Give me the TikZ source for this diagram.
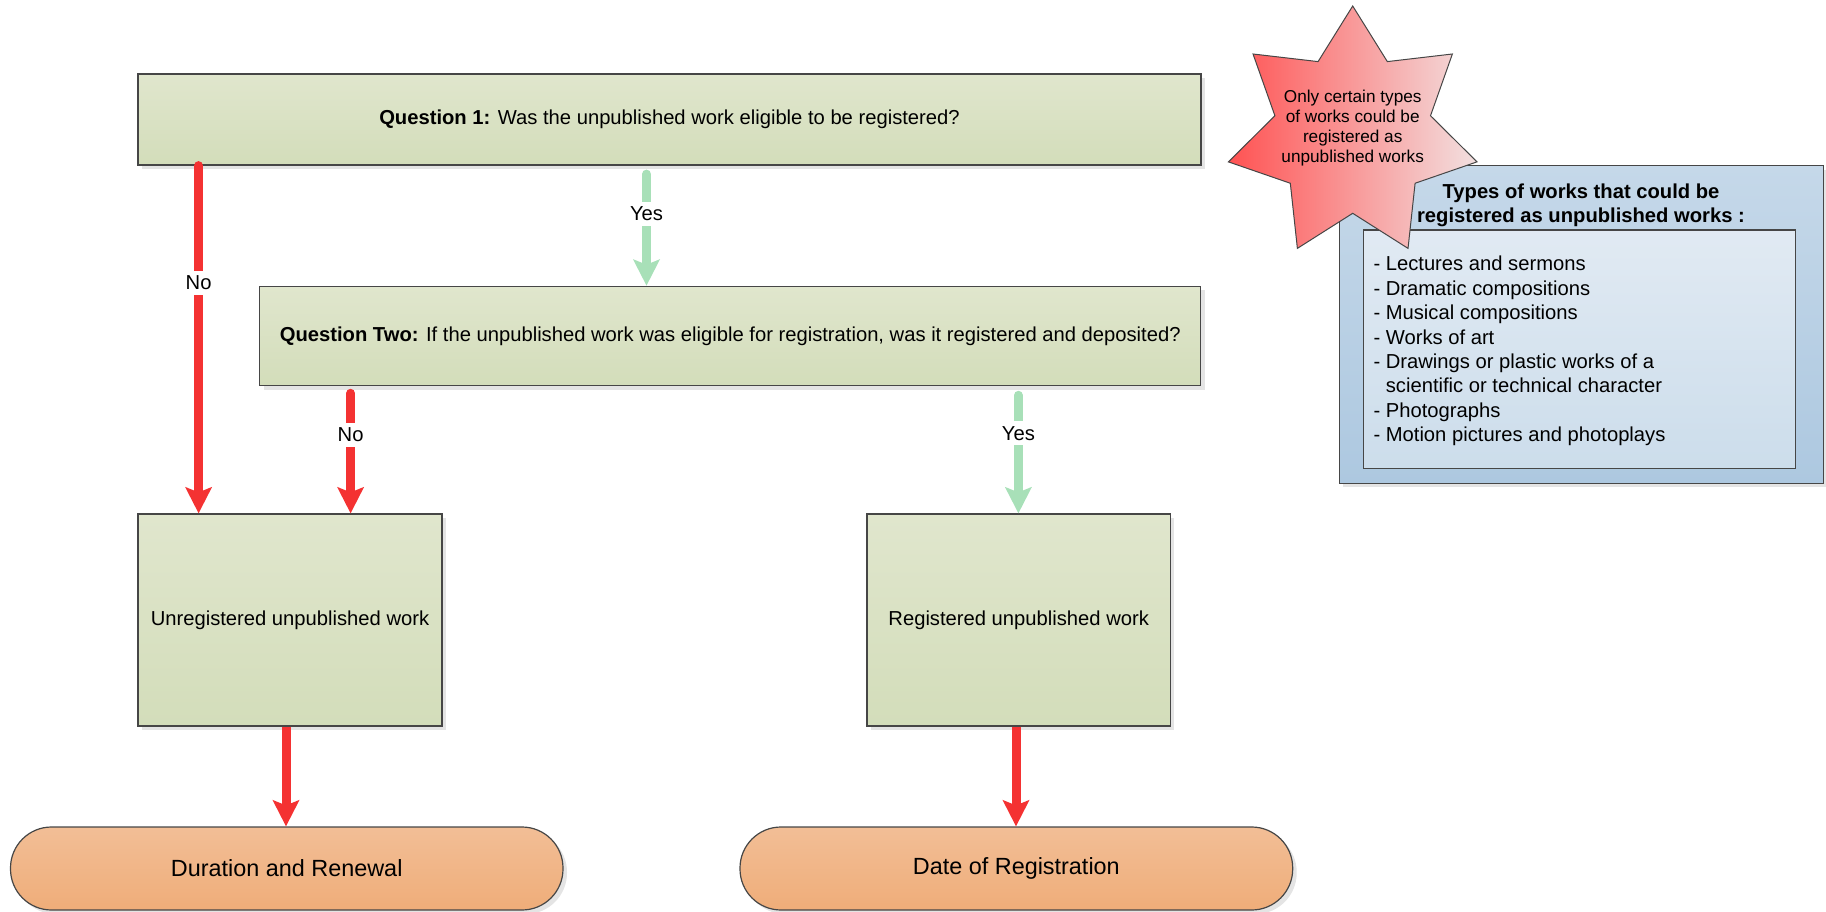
\documentclass[tikz,border=0pt]{standalone}
\usepackage{fontspec}
\setmainfont{Liberation Sans}
\usetikzlibrary{arrows.meta,shadows,calc}

\definecolor{redarrow}{RGB}{244,50,50}
\definecolor{greenarrow}{RGB}{168,224,184}
\definecolor{greentop}{RGB}{224,230,205}
\definecolor{greenbot}{RGB}{211,221,186}
\definecolor{orangetop}{RGB}{242,190,150}
\definecolor{orangebot}{RGB}{239,173,121}
\definecolor{bluetop}{RGB}{197,216,233}
\definecolor{bluebot}{RGB}{173,200,224}
\definecolor{ibluetop}{RGB}{225,234,243}
\definecolor{ibluebot}{RGB}{204,221,235}
\definecolor{starleft}{RGB}{255,82,82}
\definecolor{starright}{RGB}{242,224,224}
\definecolor{boxborder}{RGB}{70,70,70}
\definecolor{shadowc}{RGB}{228,228,228}

\begin{document}
\begin{tikzpicture}[x=1pt,y=-1pt,
  txt/.style={font=\fontsize{20.2}{24}\selectfont},
  shadowed/.style={drop shadow={shadow xshift=4pt,shadow yshift=-4pt,fill=shadowc,opacity=1}},
  greenbox/.style={draw=boxborder,line width=1.2pt,top color=greentop,bottom color=greenbot,
     shadowed,inner sep=0pt,align=center,txt},
  endbox/.style={draw=boxborder,line width=1.2pt,top color=orangetop,bottom color=orangebot,
     rounded corners=41pt,shadowed,inner sep=0pt,font=\fontsize{23.4}{28}\selectfont},
  redarr/.style={draw=redarrow,line width=9pt,line cap=round,
     -{Stealth[length=26pt,width=26pt,inset=5pt]}},
  greenarr/.style={draw=greenarrow,line width=9pt,line cap=round,
     -{Stealth[length=26pt,width=26pt,inset=5pt]}},
  lbl/.style={fill=white,inner sep=5pt,txt,text=black}
]
\useasboundingbox (0,0) rectangle (1826,912);

% main boxes
\node[greenbox,minimum width=1063pt,minimum height=91pt] (q1) at (669.5,119.5)
  {\textbf{Question 1:} Was the unpublished work eligible to be registered?};
\node[greenbox,minimum width=941pt,minimum height=99.4pt] (q2) at (730.25,336)
  {\textbf{Question Two:} If the unpublished work was eligible for registration, was it registered and deposited?};
\node[greenbox,minimum width=304pt,minimum height=212pt] (unreg) at (290,620)
  {Unregistered unpublished work};
\node[greenbox,minimum width=303.4pt,minimum height=212pt] (reg) at (1018.7,620)
  {Registered unpublished work};
\node[endbox,minimum width=552.5pt,minimum height=83pt] (dur) at (286.75,868.5)
  {Duration and Renewal};
\node[endbox,minimum width=552.7pt,minimum height=83pt] (date) at (1016.35,868.5)
  {Date of Registration};

% connector x positions
\coordinate (xa1) at (198.6,0);
\coordinate (xa2) at (350.6,0);
\coordinate (xy1) at (646.5,0);
\coordinate (xy2) at (1018.4,0);
\coordinate (xa3) at (286,0);
\coordinate (xa4) at (1016,0);

\draw[redarr] (q1.south -| xa1) -- node[lbl,pos=0.337]{No} (unreg.north -| xa1);
\draw[redarr] ($(q2.south -| xa2)+(0,7)$) -- node[lbl,pos=0.344]{No} (unreg.north -| xa2);
\draw[greenarr] ($(q1.south -| xy1)+(0,8.5)$) -- node[lbl,pos=0.355]{Yes} (q2.north -| xy1);
\draw[greenarr] ($(q2.south -| xy2)+(0,9)$) -- node[lbl,pos=0.322]{Yes} (reg.north -| xy2);
\draw[redarr,line cap=butt] (unreg.south -| xa3) -- (dur.north -| xa3);
\draw[redarr,line cap=butt] (reg.south -| xa4) -- (date.north -| xa4);

% side box
\node[draw=boxborder,line width=1.2pt,top color=bluetop,bottom color=bluebot,shadowed,
  minimum width=484pt,minimum height=317.6pt,inner sep=0pt] (types) at (1581.3,324.5) {};
\node[draw=boxborder,line width=1.2pt,top color=ibluetop,bottom color=ibluebot,
  minimum width=431.6pt,minimum height=238.3pt,inner sep=0pt] (typesin) at (1579.5,349.15) {};
\node[align=center,font=\fontsize{20.2}{24}\selectfont\bfseries,inner sep=0pt] (typestitle) at (1581,205)
  {Types of works that could be\\registered as unpublished works :};
\node[align=left,anchor=west,font=\fontsize{20.2}{24.4}\selectfont,inner sep=0pt] (typeslist) at (1373.3,351)
  {- Lectures and sermons\\
   - Dramatic compositions\\
   - Musical compositions\\
   - Works of art\\
   - Drawings or plastic works of a\\
   \phantom{- }scientific or technical character\\
   - Photographs\\
   - Motion pictures and photoplays};

% star note
\draw[draw=boxborder,line width=1pt,left color=starleft,right color=starright]
  (1352.7,6.0) -- (1318.07,61.60) -- (1253.02,54.00) -- (1274.90,115.74) --
  (1228.40,161.87) -- (1290.31,183.26) -- (1297.38,248.38) -- (1352.7,213.3) --
  (1408.02,248.38) -- (1415.09,183.26) -- (1477.0,161.87) -- (1430.50,115.74) --
  (1452.38,54.00) -- (1387.33,61.60) -- cycle;
\node[align=center,font=\fontsize{17.2}{20.2}\selectfont,inner sep=0pt] (starnote) at (1352.7,128)
  {Only certain types\\of works could be\\registered as\\unpublished works};
\end{tikzpicture}
\end{document}
